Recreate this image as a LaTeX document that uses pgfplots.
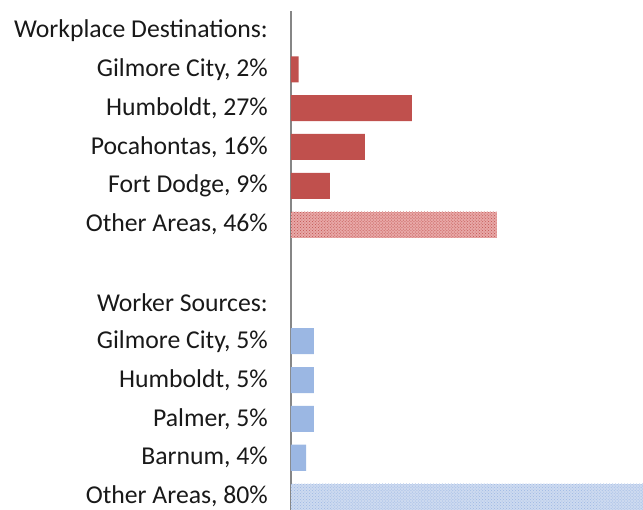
\documentclass[border=0pt]{standalone}
\usepackage{pgfplots}
\pgfplotsset{compat=1.18}
\usepackage{fontspec}
\setmainfont{Carlito}
\usetikzlibrary{patterns}
\definecolor{myred}{RGB}{192,80,77}
\definecolor{myredlt}{RGB}{232,168,167}
\definecolor{myblue}{RGB}{155,183,227}
\definecolor{mybluelt}{RGB}{205,218,240}
\definecolor{axgray}{RGB}{134,134,134}
\begin{document}
\begin{tikzpicture}
\begin{axis}[
  scale only axis,
  width=352bp, height=499bp,
  xmin=0, xmax=78.6,
  ymin=-0.345, ymax=12.5,
  xbar, bar width=0.67, bar shift=0pt,
  axis x line=none,
  axis y line=left,
  y axis line style={axgray, line width=1.6bp, -},
  ytick={0,1,2,3,4,5,6,7,8,9,10,11,12},
  yticklabels={{Other Areas, 80\%},{Barnum, 4\%},{Palmer, 5\%},{Humboldt, 5\%},{Gilmore City, 5\%},{Worker Sources:},{},{Other Areas, 46\%},{Fort Dodge, 9\%},{Pocahontas, 16\%},{Humboldt, 27\%},{Gilmore City, 2\%},{Workplace Destinations:}},
  major tick length=0pt,
  yticklabel style={font=\fontsize{25.8}{30}\selectfont, inner sep=0pt, anchor=east, xshift=-23bp, text=black!90},
  clip=true,
]
\addplot[fill=myred, draw=none, bar shift=0pt] coordinates {(1.7,11) (27,10) (16.5,9) (8.7,8)};
\addplot[fill=myredlt, draw=none, bar shift=0pt, postaction={pattern=crosshatch dots, pattern color=myred}] coordinates {(46,7)};
\addplot[fill=myblue, draw=none, bar shift=0pt] coordinates {(5.1,4) (5.1,3) (5.1,2) (3.4,1)};
\addplot[fill=mybluelt, draw=none, bar shift=0pt, postaction={pattern=crosshatch dots, pattern color=myblue}] coordinates {(80,0)};
\end{axis}
\pgfresetboundingbox
\path ([xshift=-291bp]current axis.south west) rectangle ([yshift=11bp]current axis.north east);
\end{tikzpicture}
\end{document}
